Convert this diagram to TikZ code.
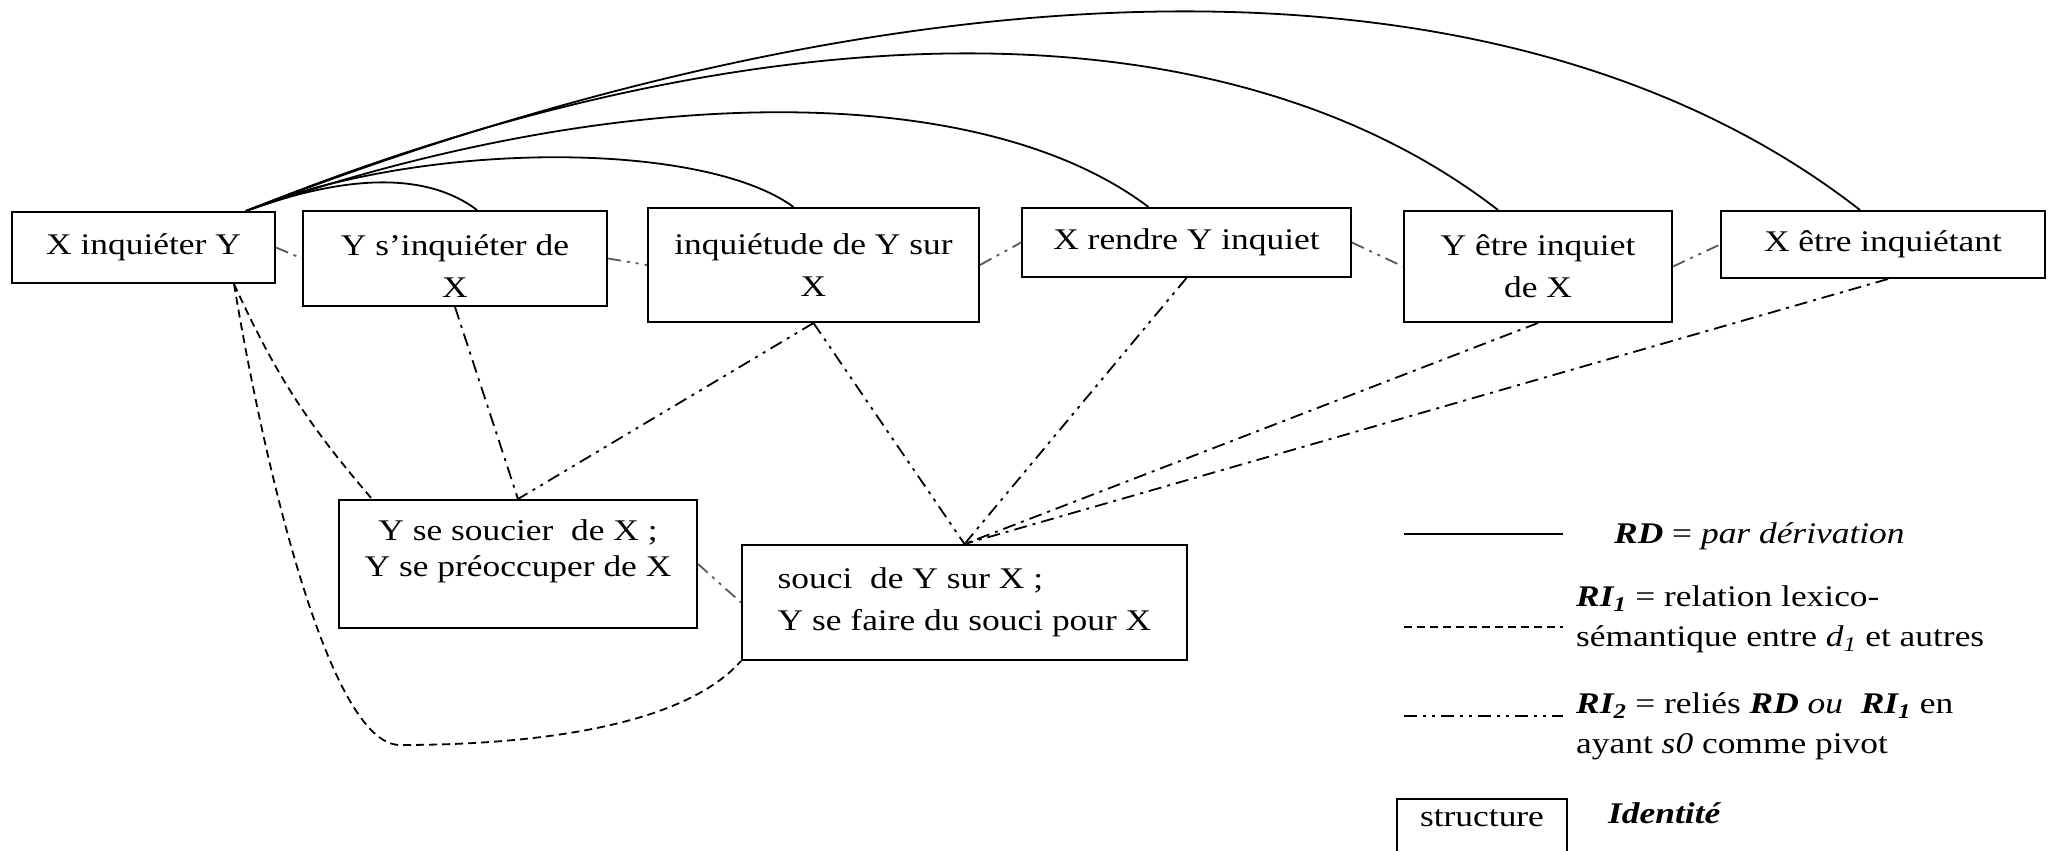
\documentclass[tikz,border=0pt]{standalone}
\usepackage{fontspec}
\setmainfont[FakeStretch=1.18]{Liberation Serif}
\usetikzlibrary{calc}
\newcommand{\boxfont}{\fontsize{30}{42}\selectfont}
\newcommand{\boxfonttight}{\fontsize{30}{36}\selectfont}
\newcommand{\legfont}{\fontsize{30}{40}\selectfont}
\begin{document}
\begin{tikzpicture}[x=1pt,y=-1pt,
  box/.style={draw=black, line width=2pt, inner sep=0pt, align=center, font=\boxfont},
  txt/.style={inner sep=0pt, align=center},
  rd/.style={line width=1.8pt},
  ri1/.style={line width=1.8pt, dash pattern=on 8pt off 5pt},
  ri2/.style={line width=1.8pt, dash pattern=on 13pt off 6pt on 3pt off 6pt on 3pt off 6pt},
  ri2l/.style={ri2, draw=black!65},
  dd/.style={line width=1.8pt, dash pattern=on 13pt off 6pt on 3pt off 6pt},
  leg/.style={anchor=west, align=left, inner sep=0pt, font=\legfont}
]
\useasboundingbox[fill=white] (0,0) rectangle (2061,851);

% boxes
\node[box, minimum width=263pt, minimum height=71pt] (b1) at (143.5,247.5) {X inquiéter Y};
\node[box, minimum width=304pt, minimum height=95pt] (b2) at (455,258.5) {};
\node[txt, font=\boxfont] (b2t) at (455,266) {Y s’inquiéter de\\X};
\node[box, minimum width=331pt, minimum height=114pt] (b3) at (813.5,265) {inquiétude de Y sur\\X};
\node[box, minimum width=329pt, minimum height=69pt] (b4) at (1186.5,242.5) {X rendre Y inquiet};
\node[box, minimum width=268pt, minimum height=111pt] (b5) at (1538,266.5) {Y être inquiet\\de X};
\node[box, minimum width=324pt, minimum height=67pt] (b6) at (1883,244.5) {X être inquiétant};
\node[box, minimum width=358pt, minimum height=128pt] (b7) at (518,564) {};
\node[txt, font=\boxfonttight] (b7t) at (518,551) {Y se soucier\ \ de X ;\\Y se préoccuper de X};
\node[box, align=left, minimum width=445pt, minimum height=115pt] (b8) at (964.5,602.5) {souci\ \ de Y sur X ;\\Y se faire du souci pour X};

% RD arcs
\draw[rd] ([xshift=-30pt]b1.north east) .. controls +(104,-38) and +(-49,-37) .. ([xshift=22pt]b2.north);
\draw[rd] ([xshift=-30pt]b1.north east) .. controls +(174,-71) and +(-91,-67) .. ([xshift=-20pt]b3.north);
\draw[rd] ([xshift=-30pt]b1.north east) .. controls +(377,-131) and +(-168,-127) .. ([xshift=-38pt]b4.north);
\draw[rd] ([xshift=-30pt]b1.north east) .. controls +(522,-210) and +(-270,-209) .. ([xshift=-40pt]b5.north);
\draw[rd] ([xshift=-30pt]b1.north east) .. controls +(689,-266) and +(-340,-265) .. ([xshift=-23pt]b6.north);

% neighbours
\draw[ri2l] (b1.east) -- (b2.west);
\draw[ri2l] (b2.east) -- (b3.west);
\draw[ri2l] (b3.east) -- (b4.west);
\draw[ri2l] (b4.east) -- (b5.west);
\draw[ri2l] (b5.east) -- (b6.west);
\draw[ri2l] (b7.east) -- (b8.west);

% down connectors
\draw[dd] (b2.south) -- (b7.north);
\draw[ri2] (b3.south) -- (b7.north);
\draw[ri2] (b3.south) -- (b8.north);
\draw[ri2] (b4.south) -- (b8.north);
\draw[dd] (b5.south) -- (b8.north);
\draw[dd] ([xshift=5pt]b6.south) -- (b8.north);

% RI1
\coordinate (loop) at (400,745);
\draw[ri1] ([xshift=-42pt]b1.south east) to[bend right=8] ([xshift=34pt]b7.north west);
\draw[ri1] ([xshift=-42pt]b1.south east) .. controls (265,470) and (330,745) .. (loop) .. controls (520,745) and (680,730) .. (b8.south west);

% legend
\coordinate (l1a) at (1404,534); \coordinate (l1b) at (1563,534);
\coordinate (l2a) at (1404,627); \coordinate (l2b) at (1563,627);
\coordinate (l3a) at (1404,716); \coordinate (l3b) at (1563,716);
\draw[rd] (l1a) -- (l1b);
\draw[ri1] (l2a) -- (l2b);
\draw[ri2] (l3a) -- (l3b);
\node[leg] (t1) at (1614,536) {\textbf{\textit{RD}} = \textit{par dérivation}};
\node[leg] (t2) at (1576,619) {\textbf{\textit{RI\textsubscript{1}}} = relation lexico-\\sémantique entre \textit{d\textsubscript{1}} et autres};
\node[leg] (t3) at (1576,726) {\textbf{\textit{RI\textsubscript{2}}} = reliés \textbf{\textit{RD}} \textit{ou}\ \ \textbf{\textit{RI\textsubscript{1}}} en\\ayant \textit{s0} comme pivot};
\node[box, minimum width=170pt, minimum height=100pt] (lbox) at (1482,849) {};
\node[txt, font=\boxfont] (lstr) at (1482,818) {structure};
\node[leg] (t4) at (1608,813) {\textbf{\textit{Identité}}};
\end{tikzpicture}
\end{document}
